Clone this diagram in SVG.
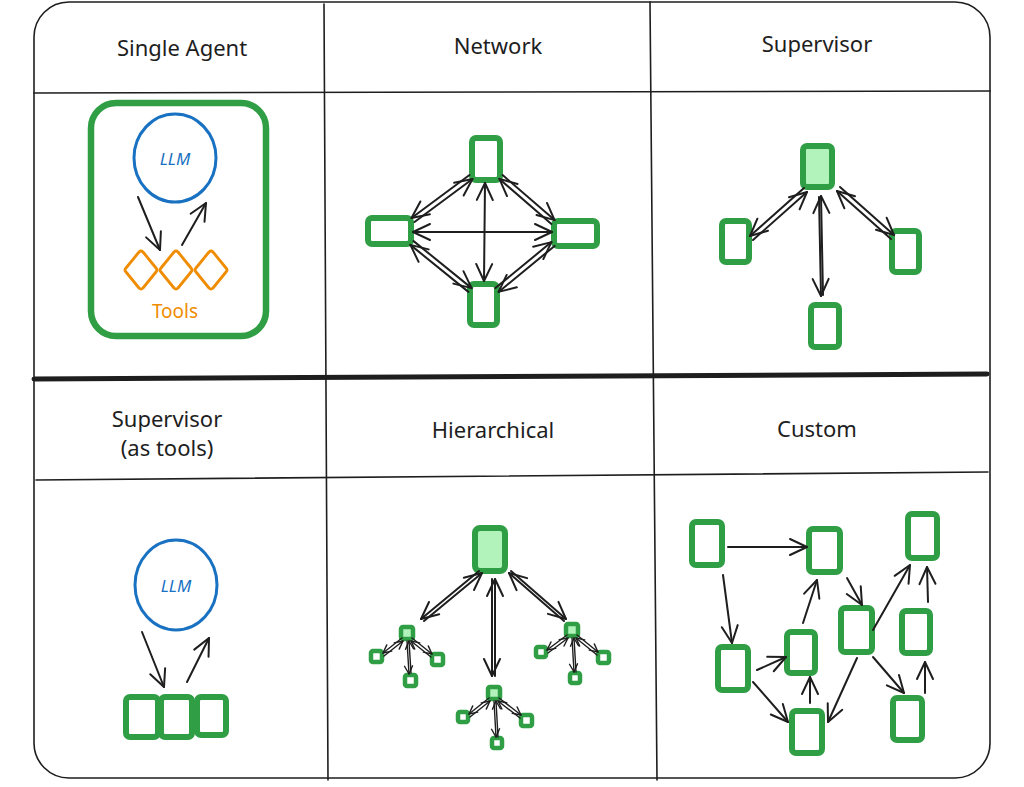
<svg xmlns="http://www.w3.org/2000/svg" width="1024" height="787" viewBox="0 0 1024 787">
<style>
.frame{fill:none;stroke:#1e1e1e;stroke-width:1.6;stroke-linecap:round}
.hdr{font-family:"Noto Sans","Liberation Sans",sans-serif;font-size:22px;fill:#1e1e1e;text-anchor:middle}
.node{fill:none;stroke:#2f9e44;stroke-width:6;stroke-linejoin:round}
.sup{fill:#b2f2bb;stroke:#2f9e44;stroke-width:6;stroke-linejoin:round}
.small{fill:none;stroke:#2f9e44;stroke-width:4.5;stroke-linejoin:round}
.smallsup{fill:#b2f2bb;stroke:#2f9e44;stroke-width:4.5;stroke-linejoin:round}
.llm{fill:none;stroke:#1971c2;stroke-width:3}
.llmt{font-family:"Noto Sans","Liberation Sans",sans-serif;font-size:17px;font-style:italic;fill:#1971c2;text-anchor:middle}
.tool{fill:none;stroke:#f08c00;stroke-width:2.8;stroke-linejoin:round}
.toolt{font-family:"Noto Sans","Liberation Sans",sans-serif;font-size:19px;fill:#f08c00;text-anchor:middle}
.a{fill:none;stroke:#1e1e1e;stroke-width:2;stroke-linecap:round;marker-end:url(#ah)}
.ab{fill:none;stroke:#1e1e1e;stroke-width:2;stroke-linecap:round;marker-start:url(#ahs);marker-end:url(#ah)}
.as{fill:none;stroke:#1e1e1e;stroke-width:1.4;stroke-linecap:round;marker-end:url(#ahsm)}
</style>
<defs>
<marker id="ah" markerUnits="userSpaceOnUse" viewBox="-20 -10 22 20" refX="0" refY="0" markerWidth="22" markerHeight="20" orient="auto">
<path d="M-17,-8 L0,0 L-17,8" fill="none" stroke="#1e1e1e" stroke-width="2" stroke-linecap="round" stroke-linejoin="round"/>
</marker>
<marker id="ahs" markerUnits="userSpaceOnUse" viewBox="-20 -10 22 20" refX="0" refY="0" markerWidth="22" markerHeight="20" orient="auto-start-reverse">
<path d="M-17,-8 L0,0 L-17,8" fill="none" stroke="#1e1e1e" stroke-width="2" stroke-linecap="round" stroke-linejoin="round"/>
</marker>
<marker id="ahsm" markerUnits="userSpaceOnUse" viewBox="-10 -6 11 12" refX="0" refY="0" markerWidth="11" markerHeight="12" orient="auto">
<path d="M-8,-4 L0,0 L-8,4" fill="none" stroke="#1e1e1e" stroke-width="1.4" stroke-linecap="round" stroke-linejoin="round"/>
</marker>
</defs>
<rect width="1024" height="787" fill="#ffffff"/>

<g id="frame">
<rect class="frame" x="34" y="2" width="956" height="776" rx="35"/>
<line class="frame" x1="324" y1="4" x2="328" y2="780"/>
<line class="frame" x1="650" y1="2" x2="657" y2="780"/>
<line class="frame" x1="34" y1="93" x2="990" y2="91"/>
<line x1="34" y1="379" x2="987" y2="374" stroke="#1e1e1e" stroke-width="5" stroke-linecap="round"/>
<line class="frame" x1="36" y1="480" x2="988" y2="472"/>
</g>

<g id="headers">
<text class="hdr" x="182" y="56">Single Agent</text>
<text class="hdr" x="498" y="54">Network</text>
<text class="hdr" x="817" y="52">Supervisor</text>
<text class="hdr" x="167" y="427">Supervisor</text>
<text class="hdr" x="167" y="456">(as tools)</text>
<text class="hdr" x="493" y="438">Hierarchical</text>
<text class="hdr" x="817" y="437">Custom</text>
</g>

<g id="single-agent">
<rect x="91" y="103" width="175" height="233" rx="25" fill="none" stroke="#2f9e44" stroke-width="6.5"/>
<g id="sa-llm"><ellipse class="llm" cx="175" cy="158" rx="41" ry="44"/><text class="llmt" x="175" y="165">LLM</text></g>
<g id="sa-tools">
<path class="tool" d="M139,252 Q141,250 143,252 L156,268 Q158,270 156,272 L143,288 Q141,290 139,288 L126,272 Q124,270 126,268 Z"/>
<path class="tool" d="M174,252 Q176,250 178,252 L191,268 Q193,270 191,272 L178,288 Q176,290 174,288 L161,272 Q159,270 161,268 Z"/>
<path class="tool" d="M209,252 Q211,250 213,252 L226,268 Q228,270 226,272 L213,288 Q211,290 209,288 L196,272 Q194,270 196,268 Z"/>
<text class="toolt" x="175" y="318">Tools</text>
</g>
</g>

<g id="network-nodes">
<rect id="net-top" class="node" x="472" y="138" width="28" height="42" rx="4"/>
<rect id="net-left" class="node" x="368" y="218" width="43" height="26" rx="4"/>
<rect id="net-right" class="node" x="554" y="221" width="43" height="25" rx="4"/>
<rect id="net-bottom" class="node" x="470" y="284" width="27" height="41" rx="4"/>
</g>

<g id="supervisor-nodes">
<rect id="sup-top" class="sup" x="803" y="146" width="29" height="41" rx="4"/>
<rect id="sup-left" class="node" x="722" y="221" width="27" height="41" rx="4"/>
<rect id="sup-right" class="node" x="892" y="231" width="27" height="41" rx="4"/>
<rect id="sup-bottom" class="node" x="811" y="305" width="28" height="42" rx="4"/>
</g>

<g id="supervisor-tools">
<g id="st-llm"><ellipse class="llm" cx="176" cy="585" rx="41" ry="45"/><text class="llmt" x="176" y="592">LLM</text></g>
<rect id="st-a" class="node" x="126" y="697" width="32" height="40" rx="4"/>
<rect id="st-b" class="node" x="161" y="697" width="31" height="40" rx="4"/>
<rect id="st-c" class="node" x="197" y="697" width="29" height="38" rx="4"/>
</g>

<g id="hierarchical-nodes">
<rect id="h-top" class="sup" x="475" y="528" width="30" height="43" rx="5"/>
<rect id="h-l" class="smallsup" x="401" y="627" width="12" height="12" rx="2"/>
<rect id="h-m" class="smallsup" x="488" y="687" width="12" height="12" rx="2"/>
<rect id="h-r" class="smallsup" x="566" y="624" width="12" height="12" rx="2"/>
<rect id="h-l1" class="small" x="371" y="651" width="11" height="11" rx="2"/>
<rect id="h-l2" class="small" x="405" y="675" width="11" height="11" rx="2"/>
<rect id="h-l3" class="small" x="432" y="654" width="11" height="11" rx="2"/>
<rect id="h-m1" class="small" x="458" y="712" width="10" height="10" rx="2"/>
<rect id="h-m2" class="small" x="492" y="738" width="10" height="10" rx="2"/>
<rect id="h-m3" class="small" x="521" y="715" width="11" height="11" rx="2"/>
<rect id="h-r1" class="small" x="536" y="647" width="10" height="10" rx="2"/>
<rect id="h-r2" class="small" x="570" y="673" width="10" height="10" rx="2"/>
<rect id="h-r3" class="small" x="598" y="652" width="11" height="11" rx="2"/>
</g>

<g id="custom-nodes">
<rect id="c-a" class="node" x="692" y="522" width="30" height="43" rx="4"/>
<rect id="c-b" class="node" x="809" y="529" width="31" height="43" rx="4"/>
<rect id="c-c" class="node" x="908" y="514" width="29" height="44" rx="4"/>
<rect id="c-d" class="node" x="718" y="647" width="30" height="43" rx="4"/>
<rect id="c-e" class="node" x="787" y="632" width="28" height="41" rx="4"/>
<rect id="c-f" class="node" x="841" y="608" width="31" height="44" rx="4"/>
<rect id="c-g" class="node" x="902" y="611" width="28" height="42" rx="4"/>
<rect id="c-h" class="node" x="792" y="711" width="30" height="42" rx="4"/>
<rect id="c-i" class="node" x="893" y="698" width="29" height="42" rx="4"/>
</g>

<g id="connectors">
<line class="a" x1="138" y1="197" x2="160" y2="250"/>
<line class="a" x1="182" y1="245" x2="206" y2="203"/>
<line class="a" x1="142" y1="632" x2="164" y2="687"/>
<line class="a" x1="187" y1="682" x2="209" y2="638"/>
<line class="a" x1="469.5" y1="175" x2="411.5" y2="218"/>
<line class="a" x1="414.5" y1="222" x2="472.5" y2="179"/>
<line class="a" x1="502.6" y1="175.1" x2="554.6" y2="220.1"/>
<line class="a" x1="551.4" y1="223.9" x2="499.4" y2="178.9"/>
<line class="a" x1="413.6" y1="241.1" x2="471.6" y2="288.1"/>
<line class="a" x1="468.4" y1="291.9" x2="410.4" y2="244.9"/>
<line class="a" x1="554.6" y1="245.9" x2="498.6" y2="291.9"/>
<line class="a" x1="495.4" y1="288.1" x2="551.4" y2="242.1"/>
<line class="ab" x1="413" y1="232" x2="552" y2="232"/>
<line class="ab" x1="485" y1="183" x2="484" y2="281"/>
<line class="a" x1="804" y1="188" x2="750" y2="236"/>
<line class="a" x1="753" y1="240" x2="807" y2="192"/>
<line class="a" x1="819" y1="197" x2="821" y2="296"/>
<line class="a" x1="823" y1="295" x2="821" y2="196"/>
<line class="a" x1="840" y1="187" x2="894" y2="235"/>
<line class="a" x1="891" y1="239" x2="837" y2="191"/>
<line class="a" x1="479" y1="571" x2="421" y2="619"/>
<line class="a" x1="424" y1="621" x2="482" y2="573"/>
<line class="a" x1="492" y1="579" x2="492" y2="676"/>
<line class="a" x1="495" y1="676" x2="495" y2="579"/>
<line class="a" x1="511" y1="571" x2="566" y2="619"/>
<line class="a" x1="564" y1="621" x2="509" y2="573"/>
<line class="as" x1="402" y1="638" x2="383" y2="653"/>
<line class="as" x1="384" y1="656" x2="403" y2="641"/>
<line class="as" x1="407" y1="641" x2="409" y2="674"/>
<line class="as" x1="411" y1="673" x2="409" y2="641"/>
<line class="as" x1="412" y1="638" x2="432" y2="654"/>
<line class="as" x1="431" y1="657" x2="411" y2="641"/>
<line class="as" x1="489" y1="698" x2="469" y2="714"/>
<line class="as" x1="470" y1="717" x2="490" y2="701"/>
<line class="as" x1="494" y1="701" x2="496" y2="737"/>
<line class="as" x1="498" y1="737" x2="496" y2="701"/>
<line class="as" x1="499" y1="698" x2="521" y2="715"/>
<line class="as" x1="520" y1="718" x2="498" y2="701"/>
<line class="as" x1="567" y1="635" x2="547" y2="650"/>
<line class="as" x1="548" y1="653" x2="568" y2="638"/>
<line class="as" x1="572" y1="638" x2="574" y2="672"/>
<line class="as" x1="576" y1="672" x2="574" y2="638"/>
<line class="as" x1="577" y1="635" x2="598" y2="652"/>
<line class="as" x1="597" y1="655" x2="576" y2="638"/>
<line class="a" x1="728" y1="547" x2="807" y2="547"/>
<line class="a" x1="723" y1="575" x2="732" y2="643"/>
<line class="a" x1="757" y1="670" x2="786" y2="657"/>
<line class="a" x1="753" y1="682" x2="788" y2="722"/>
<line class="a" x1="810" y1="703" x2="810" y2="677"/>
<line class="a" x1="803" y1="623" x2="817" y2="580"/>
<line class="a" x1="847" y1="578" x2="862" y2="605"/>
<line class="a" x1="873" y1="630" x2="910" y2="565"/>
<line class="a" x1="857" y1="658" x2="828" y2="722"/>
<line class="a" x1="873" y1="657" x2="904" y2="693"/>
<line class="a" x1="925" y1="693" x2="925" y2="662"/>
<line class="a" x1="928" y1="602" x2="927" y2="567"/>
</g>
</svg>
